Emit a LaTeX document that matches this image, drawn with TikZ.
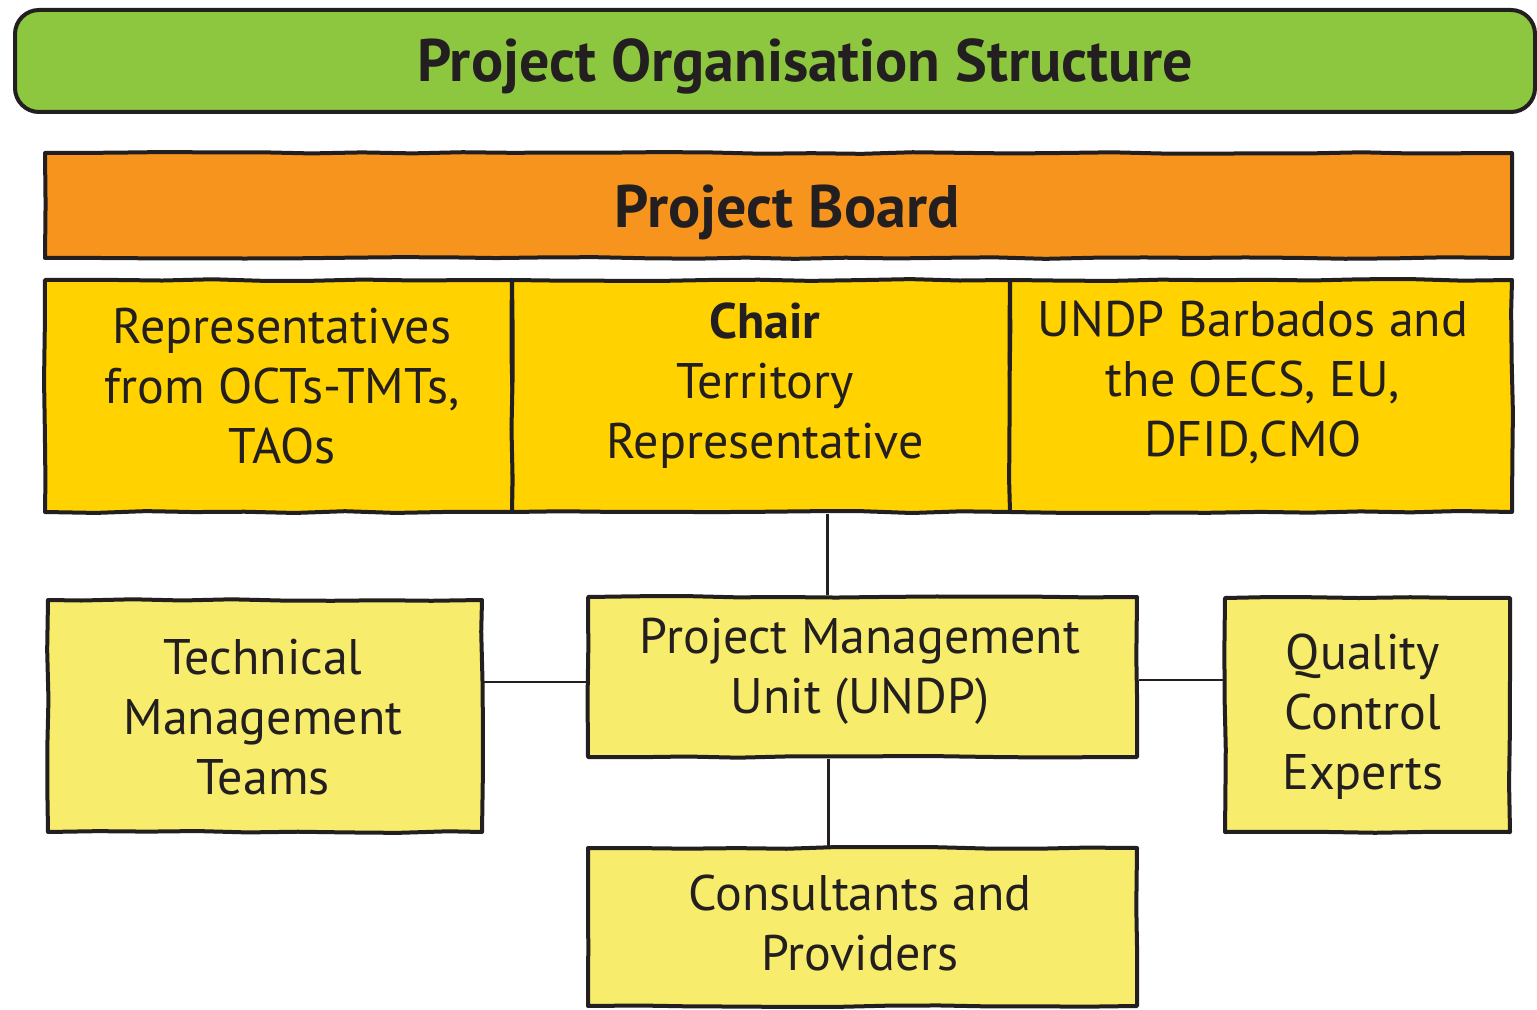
\documentclass[tikz,border=0pt]{standalone}
\usepackage{fontspec}
\setmainfont{PT Sans}
\usetikzlibrary{decorations.pathmorphing}
\definecolor{titlegreen}{RGB}{141,198,63}
\definecolor{boardorange}{RGB}{247,148,30}
\definecolor{cellyellow}{RGB}{255,210,0}
\definecolor{boxyellow}{RGB}{247,236,107}
\definecolor{ink}{RGB}{35,31,32}
\begin{document}
\begin{tikzpicture}[x=0.5pt,y=-0.5pt,
  sketch/.style={draw=ink, line width=2pt, line join=round,
    decorate, decoration={random steps, segment length=25pt, amplitude=0.5pt}},
  bar/.style={sketch, inner sep=0pt},
  cell/.style={sketch, fill=cellyellow, minimum height=116pt, inner sep=0pt},
  unit/.style={sketch, fill=boxyellow, inner sep=0pt},
  label/.style={text=ink, align=center, font=\fontsize{25}{30}\selectfont, inner sep=0pt},
  heading/.style={text=ink, align=center, font=\bfseries\fontsize{30}{36}\selectfont, inner sep=0pt},
  link/.style={draw=ink, line width=1.3pt}
]
\pgfmathsetseed{11}
\useasboundingbox (0,0) rectangle (1537,1010);

% bars
\node[draw=ink, line width=2pt, fill=titlegreen, rounded corners=12pt, inner sep=0pt, minimum width=760pt, minimum height=51pt] (title) at (775,61) {};
\node[bar, fill=boardorange, minimum width=733.5pt, minimum height=52.5pt] (board) at (778.5,205.5) {};

% board member cells
\node[cell, minimum width=233.5pt] (c1) at (278.5,396) {};
\node[cell, minimum width=249pt] (c2) at (761,396) {};
\node[cell, minimum width=251pt] (c3) at (1261,396) {};

% units
\node[unit, minimum width=217pt, minimum height=116pt] (tmt) at (265,716) {};
\node[unit, minimum width=274.5pt, minimum height=80pt] (pmu) at (862.5,677) {};
\node[unit, minimum width=142.5pt, minimum height=117pt] (qce) at (1367.5,715) {};
\node[unit, minimum width=274.5pt, minimum height=79pt] (cons) at (862.5,927) {};

% connectors
\draw[link] ([xshift=-17.5pt]pmu.north) -- ([xshift=-17.5pt]pmu.north |- c2.south);
\draw[link] ([xshift=-17pt]pmu.south) -- ([xshift=-17pt]pmu.south |- cons.north);
\draw[link] ([yshift=-2.5pt]pmu.west) -- ([yshift=-2.5pt]pmu.west -| tmt.east);
\draw[link] ([yshift=-1.5pt]pmu.east) -- ([yshift=-1.5pt]pmu.east -| qce.west);

% texts
\node[heading] (titletext) at (805,66) {Project Organisation Structure};
\node[heading] (boardtext) at (787,212) {Project Board};
\node[label] (t1) at (282,386) {Representatives\\from OCTs-TMTs,\\TAOs};
\node[label] (t2) at (765,386) {\textbf{Chair}\\Territory\\Representative};
\node[label] (t3) at (1253,382) {UNDP Barbados and\\the OECS, EU,\\DFID,CMO};
\node[label] (ttmt) at (263,717) {Technical\\Management\\Teams};
\node[label] (tpmu) at (860,671) {Project Management\\Unit (UNDP)};
\node[label] (tqce) at (1363,717) {Quality\\Control\\Experts};
\node[label] (tcons) at (860,923) {Consultants and\\Providers};
\end{tikzpicture}
\end{document}
